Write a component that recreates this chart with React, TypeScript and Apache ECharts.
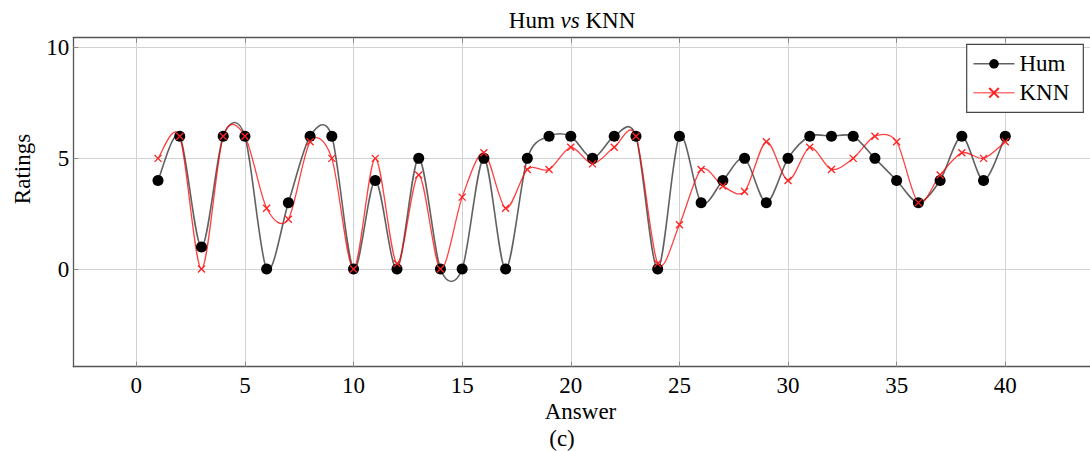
import React, { useEffect, useRef } from "react";
import * as echarts from "echarts";

const answers = [1, 2, 3, 4, 5, 6, 7, 8, 9, 10, 11, 12, 13, 14, 15, 16, 17, 18, 19, 20, 21, 22, 23, 24, 25, 26, 27, 28, 29, 30, 31, 32, 33, 34, 35, 36, 37, 38, 39, 40];
const humRatings = [4, 6, 1, 6, 6, 0, 3, 6, 6, 0, 4, 0, 5, 0, 0, 5, 0, 5, 6, 6, 5, 6, 6, 0, 6, 3, 4, 5, 3, 5, 6, 6, 6, 5, 4, 3, 4, 6, 4, 6];
const knnRatings = [5, 6, 0, 6, 6, 2.75, 2.25, 5.75, 5, 0, 5, 0.25, 4.25, 0, 3.25, 5.25, 2.75, 4.5, 4.5, 5.5, 4.75, 5.5, 6, 0.25, 2, 4.5, 3.75, 3.5, 5.75, 4, 5.5, 4.5, 5, 6, 5.75, 3, 4.25, 5.25, 5, 5.75];
const xTicks = [0, 5, 10, 15, 20, 25, 30, 35, 40];
const yTicks = [0, 5, 10];
const seriesNames = ["Hum", "KNN"];

const FONT = "Liberation Serif";
const X_MIN = -2.9;
const X_MAX = 43.9;
const Y_MIN = -4.41;
const Y_MAX = 10.45;
const TENSION = 0.15;

const HUM_LINE = "rgba(0,0,0,0.62)";
const KNN_LINE = "rgba(255,0,0,0.75)";

function curveSeries(name: string, ys: number[], color: string, width: number) {
  return {
    name,
    type: "custom",
    xAxisIndex: 0,
    yAxisIndex: 0,
    silent: true,
    clip: false,
    data: answers.map((a, i) => [a, ys[i]]),
    renderItem: (params: any, api: any) => {
      if (params.dataIndex !== 0) return null;
      const pts = answers.map((a, i) => api.coord([a, ys[i]]));
      let d = `M${pts[0][0]},${pts[0][1]}`;
      for (let i = 0; i < pts.length - 1; i++) {
        const p0 = pts[i - 1] || pts[i];
        const p1 = pts[i];
        const p2 = pts[i + 1];
        const p3 = pts[i + 2] || pts[i + 1];
        const c1x = p1[0] + TENSION * (p2[0] - p0[0]);
        const c1y = p1[1] + TENSION * (p2[1] - p0[1]);
        const c2x = p2[0] - TENSION * (p3[0] - p1[0]);
        const c2y = p2[1] - TENSION * (p3[1] - p1[1]);
        d += ` C${c1x},${c1y} ${c2x},${c2y} ${p2[0]},${p2[1]}`;
      }
      return {
        type: "path",
        shape: { pathData: d },
        style: { fill: "none", stroke: color, lineWidth: width },
      };
    },
  };
}

export default function App() {
  const ref = useRef<HTMLDivElement>(null);
  useEffect(() => {
    if (!ref.current) return;
    const chart = echarts.init(ref.current, null, { renderer: "svg" });
    const axisLineStyle = { color: "#555", width: 1.3 };
    const tickStyle = { color: "#8a8a8a", width: 1 };
    const gridStyle = { color: "#d2d2d2", width: 1 };
    const labelStyle = { fontSize: 23, fontFamily: FONT, color: "#000" };
    const option: any = {
      animation: false,
      grid: { left: 73.3, top: 37.7, right: -12.5, bottom: 84.3, containLabel: false },
      xAxis: [
        {
          type: "value",
          min: X_MIN,
          max: X_MAX,
          position: "bottom",
          axisLine: { show: true, onZero: false, lineStyle: axisLineStyle },
          axisTick: { show: true, inside: true, length: 5, customValues: xTicks, lineStyle: tickStyle },
          axisLabel: { customValues: xTicks, margin: 7, ...labelStyle },
          splitLine: { show: true, lineStyle: gridStyle },
        },
        {
          type: "value",
          min: X_MIN,
          max: X_MAX,
          position: "top",
          axisLine: { show: true, onZero: false, lineStyle: axisLineStyle },
          axisTick: { show: true, inside: true, length: 5, customValues: xTicks, lineStyle: tickStyle },
          axisLabel: { show: false },
          splitLine: { show: false },
        },
      ],
      yAxis: [
        {
          type: "value",
          min: Y_MIN,
          max: Y_MAX,
          position: "left",
          axisLine: { show: true, onZero: false, lineStyle: axisLineStyle },
          axisTick: { show: true, inside: true, length: 5, customValues: yTicks, lineStyle: tickStyle },
          axisLabel: { customValues: yTicks, margin: 4, ...labelStyle },
          splitLine: { show: true, lineStyle: gridStyle },
        },
      ],
      legend: {
        orient: "vertical",
        left: 966.7,
        top: 44.3,
        itemWidth: 41,
        itemHeight: 12,
        itemGap: 6,
        padding: [8, 14, 8, 6],
        borderColor: "#444",
        borderWidth: 1.2,
        borderRadius: 0,
        backgroundColor: "#fff",
        textStyle: { fontSize: 23, fontFamily: FONT, color: "#000" },
        data: [
          { name: seriesNames[0], lineStyle: { color: HUM_LINE, width: 1.6, opacity: 1 } },
          { name: seriesNames[1], lineStyle: { color: "rgba(255,0,0,0.55)", width: 1.6, opacity: 1 } },
        ],
      },
      graphic: [
        {
          type: "text",
          x: 572,
          y: 20,
          style: {
            text: "{a|Hum }{b|vs}{a| KNN}",
            align: "center",
            verticalAlign: "middle",
            rich: {
              a: { fontSize: 23, fontFamily: FONT, fill: "#000" },
              b: { fontSize: 23, fontFamily: FONT, fontStyle: "italic", fill: "#000" },
            },
          },
        },
        {
          type: "text",
          x: 22,
          y: 169,
          rotation: Math.PI / 2,
          style: { text: "Ratings", fontSize: 23, fontFamily: FONT, fill: "#000", align: "center", verticalAlign: "middle" },
        },
        {
          type: "text",
          x: 580.5,
          y: 411,
          style: { text: "Answer", fontSize: 23, fontFamily: FONT, fill: "#000", align: "center", verticalAlign: "middle" },
        },
        {
          type: "text",
          x: 562,
          y: 438.5,
          style: { text: "(c)", fontSize: 23, fontFamily: FONT, fill: "#000", align: "center", verticalAlign: "middle" },
        },
      ],
      series: [
        curveSeries("Hum-curve", humRatings, HUM_LINE, 1.6),
        {
          name: seriesNames[0],
          type: "line",
          xAxisIndex: 0,
          yAxisIndex: 0,
          data: answers.map((a, i) => [a, humRatings[i]]),
          symbol: "circle",
          symbolSize: 11,
          itemStyle: { color: "#000" },
          lineStyle: { color: HUM_LINE, width: 1.6, opacity: 0 },
          emphasis: { disabled: true },
        },
        curveSeries("KNN-curve", knnRatings, KNN_LINE, 1.3),
        {
          name: seriesNames[1],
          type: "line",
          xAxisIndex: 0,
          yAxisIndex: 0,
          data: answers.map((a, i) => [a, knnRatings[i]]),
          symbol: "path://M0,0L10,10M10,0L0,10",
          symbolSize: 7,
          itemStyle: { color: "rgba(255,0,0,0)", borderColor: "#ff2020", borderWidth: 1.3 },
          lineStyle: { color: KNN_LINE, width: 1.3, opacity: 0 },
          emphasis: { disabled: true },
        },
      ],
    };
    chart.setOption(option);
    return () => chart.dispose();
  }, []);
  return <div ref={ref} style={{ position: "absolute", left: 0, top: 0, width: 1090, height: 451 }} />;
}
